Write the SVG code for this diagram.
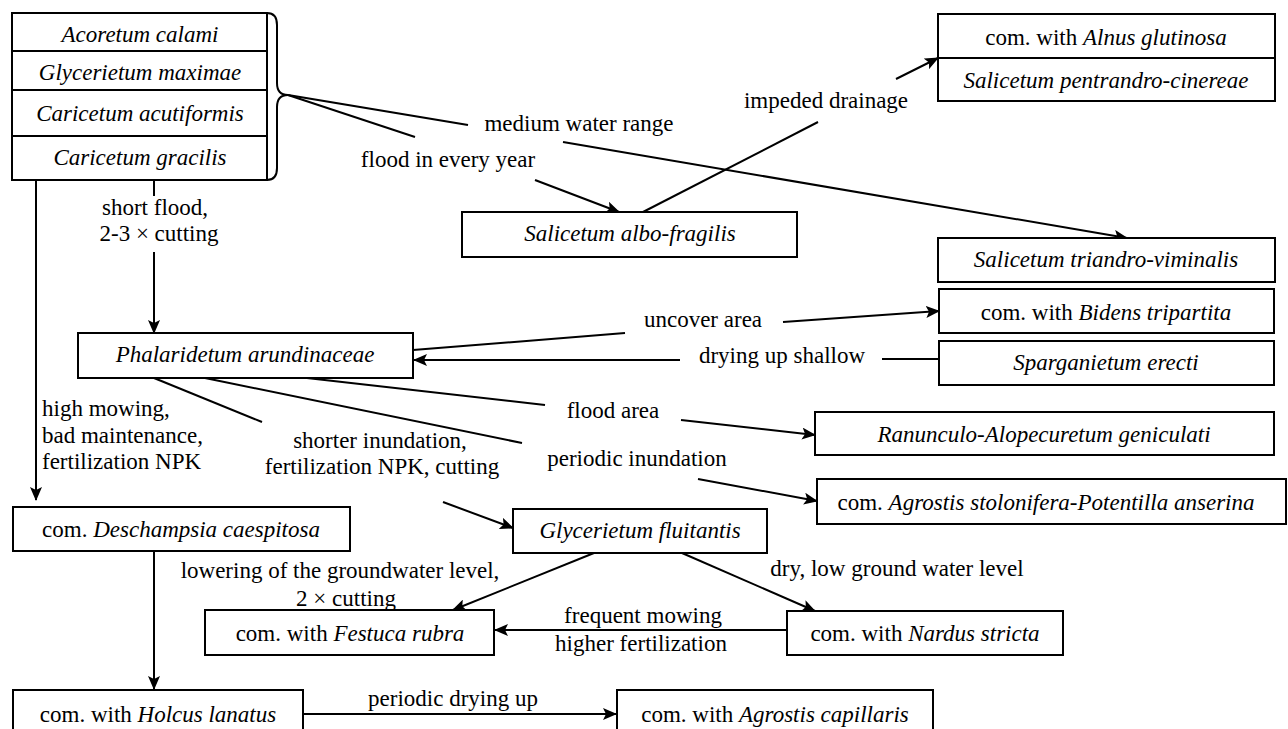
<svg xmlns="http://www.w3.org/2000/svg" width="1288" height="729" viewBox="0 0 1288 729" font-family="'Liberation Serif', 'DejaVu Serif', serif">
<style>
text{font-family:'Liberation Serif','Times New Roman','DejaVu Serif',serif;font-size:23px;fill:#000;text-anchor:middle}
.i{font-style:italic}
.l{text-anchor:start}
.box{fill:#fff;stroke:#000;stroke-width:2}
.c{fill:none;stroke:#000;stroke-width:2}
</style>
<defs>
<marker id="a" markerUnits="userSpaceOnUse" markerWidth="14" markerHeight="12" viewBox="0 0 14 12" refX="13" refY="6" orient="auto">
<path d="M0,0 L14,6 L0,12 L3,6 Z" fill="#000"/>
</marker>
</defs>
<rect width="1288" height="729" fill="#fff"/>
<g id="connectors">
<path class="c" d="M267,13 Q277,13 277,25 L277,83 Q277,95 288,95 Q277,95 277,107 L277,168 Q277,180 267,180"/>
<line class="c" x1="288" y1="95" x2="415" y2="137"/>
<line class="c" x1="288" y1="95" x2="468" y2="125"/>
<line class="c" x1="535" y1="180" x2="619" y2="212" marker-end="url(#a)"/>
<line class="c" x1="563" y1="142" x2="1127" y2="238" marker-end="url(#a)"/>
<line class="c" x1="643" y1="212" x2="818" y2="122"/>
<line class="c" x1="896" y1="79" x2="938" y2="58" marker-end="url(#a)"/>
<line class="c" x1="154" y1="180" x2="154" y2="196"/>
<line class="c" x1="154" y1="252" x2="154" y2="333" marker-end="url(#a)"/>
<line class="c" x1="36" y1="180" x2="36" y2="500" marker-end="url(#a)"/>
<line class="c" x1="154" y1="378" x2="262" y2="422"/>
<line class="c" x1="205" y1="378" x2="522" y2="443"/>
<line class="c" x1="298" y1="377" x2="545" y2="405"/>
<line class="c" x1="413" y1="350" x2="625" y2="333"/>
<line class="c" x1="783" y1="322" x2="939" y2="311" marker-end="url(#a)"/>
<line class="c" x1="680" y1="360" x2="414" y2="360" marker-end="url(#a)"/>
<line class="c" x1="882" y1="359" x2="939" y2="359"/>
<line class="c" x1="681" y1="420" x2="815" y2="435" marker-end="url(#a)"/>
<line class="c" x1="698" y1="479" x2="817" y2="501" marker-end="url(#a)"/>
<line class="c" x1="443" y1="502" x2="513" y2="528" marker-end="url(#a)"/>
<line class="c" x1="154" y1="551" x2="154" y2="689" marker-end="url(#a)"/>
<line class="c" x1="594" y1="553" x2="453" y2="610" marker-end="url(#a)"/>
<line class="c" x1="682" y1="553" x2="815" y2="611" marker-end="url(#a)"/>
<line class="c" x1="787" y1="630" x2="495" y2="630" marker-end="url(#a)"/>
<line class="c" x1="303" y1="714" x2="616" y2="714" marker-end="url(#a)"/>
<text x="579" y="131">medium water range</text>
<text x="448" y="167">flood in every year</text>
<text x="826" y="108">impeded drainage</text>
<text x="155" y="215">short flood,</text>
<text x="159" y="241">2-3 × cutting</text>
<text x="703" y="327">uncover area</text>
<text x="782" y="363">drying up shallow</text>
<text x="613" y="418">flood area</text>
<text x="637" y="466">periodic inundation</text>
<text x="380" y="448">shorter inundation,</text>
<text x="382" y="474">fertilization NPK, cutting</text>
<text class="l" x="42" y="416">high mowing,</text>
<text class="l" x="42" y="443">bad maintenance,</text>
<text class="l" x="42" y="469">fertilization NPK</text>
<text x="340" y="578">lowering of the groundwater level,</text>
<text x="346" y="606">2 × cutting</text>
<text x="897" y="576">dry, low ground water level</text>
<text x="643" y="623">frequent mowing</text>
<text x="641" y="651">higher fertilization</text>
<text x="453" y="706">periodic drying up</text>
</g>
<g id="n-stack">
<rect class="box" x="12" y="13" width="255" height="167"/>
<line class="c" x1="12" y1="51" x2="267" y2="51"/>
<line class="c" x1="12" y1="90" x2="267" y2="90"/>
<line class="c" x1="12" y1="136" x2="267" y2="136"/>
<text class="i" x="140" y="42">Acoretum calami</text>
<text class="i" x="140" y="80">Glycerietum maximae</text>
<text class="i" x="140" y="121">Caricetum acutiformis</text>
<text class="i" x="140" y="165">Caricetum gracilis</text>
</g>
<g id="n-alnus">
<rect class="box" x="938" y="14" width="337" height="87"/>
<line class="c" x1="938" y1="58" x2="1275" y2="58"/>
<text x="1106" y="45">com. with <tspan class="i">Alnus glutinosa</tspan></text>
<text class="i" x="1106" y="88">Salicetum pentrandro-cinereae</text>
</g>
<g id="n-albo">
<rect class="box" x="462" y="212" width="335" height="45"/>
<text class="i" x="630" y="241">Salicetum albo-fragilis</text>
</g>
<g id="n-triandro">
<rect class="box" x="938" y="238" width="337" height="44"/>
<text class="i" x="1106" y="267">Salicetum triandro-viminalis</text>
</g>
<g id="n-bidens">
<rect class="box" x="939" y="289" width="335" height="44"/>
<text x="1106" y="320">com. with <tspan class="i">Bidens tripartita</tspan></text>
</g>
<g id="n-sparganietum">
<rect class="box" x="939" y="341" width="335" height="44"/>
<text class="i" x="1106" y="370">Sparganietum erecti</text>
</g>
<g id="n-phalaridetum">
<rect class="box" x="78" y="333" width="335" height="45"/>
<text class="i" x="245" y="362">Phalaridetum arundinaceae</text>
</g>
<g id="n-ranunculo">
<rect class="box" x="815" y="412" width="459" height="43"/>
<text class="i" x="1044" y="442">Ranunculo-Alopecuretum geniculati</text>
</g>
<g id="n-agrostis-stolonifera">
<rect class="box" x="817" y="479" width="469" height="45"/>
<text x="1046" y="510">com. <tspan class="i">Agrostis stolonifera-Potentilla anserina</tspan></text>
</g>
<g id="n-deschampsia">
<rect class="box" x="13" y="507" width="337" height="44"/>
<text x="181" y="537">com. <tspan class="i">Deschampsia caespitosa</tspan></text>
</g>
<g id="n-glycerietum-fluitantis">
<rect class="box" x="513" y="509" width="254" height="44"/>
<text class="i" x="640" y="538">Glycerietum fluitantis</text>
</g>
<g id="n-festuca">
<rect class="box" x="205" y="610" width="289" height="45"/>
<text x="350" y="641">com. with <tspan class="i">Festuca rubra</tspan></text>
</g>
<g id="n-nardus">
<rect class="box" x="787" y="611" width="276" height="44"/>
<text x="925" y="641">com. with <tspan class="i">Nardus stricta</tspan></text>
</g>
<g id="n-holcus">
<rect class="box" x="13" y="690" width="290" height="50"/>
<text x="158" y="722">com. with <tspan class="i">Holcus lanatus</tspan></text>
</g>
<g id="n-agrostis-capillaris">
<rect class="box" x="617" y="690" width="316" height="50"/>
<text x="775" y="722">com. with <tspan class="i">Agrostis capillaris</tspan></text>
</g>
</svg>
